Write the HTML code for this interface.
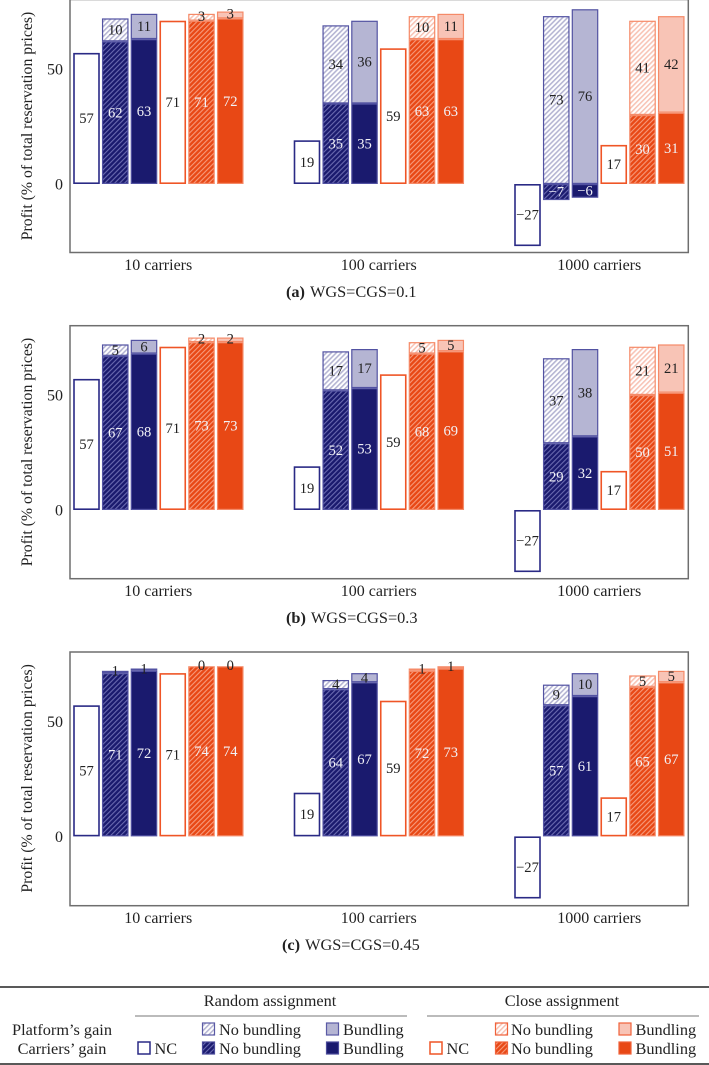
<!DOCTYPE html>
<html lang="en">
<head>
<meta charset="utf-8">
<title>Profit by assignment and bundling</title>
<style>
html,body{margin:0;padding:0;background:#fff;width:709px;height:1065px;overflow:hidden}
svg{display:block}
text{font-family:"Liberation Serif","DejaVu Serif",serif;fill:#222}
</style>
</head>
<body>
<svg id="chart" xmlns="http://www.w3.org/2000/svg" width="709" height="1065" viewBox="0 0 709 1065">
<defs>
<pattern id="hatch-navy-dark" width="3.5" height="3.5" patternUnits="userSpaceOnUse" patternTransform="rotate(45)"><rect width="3.5" height="3.5" fill="#1a1a6e"/><rect width="1.1" height="3.5" fill="#6a6ab0"/></pattern>
<pattern id="hatch-navy-light" width="3.5" height="3.5" patternUnits="userSpaceOnUse" patternTransform="rotate(45)"><rect width="3.5" height="3.5" fill="#fff"/><rect width="1.6" height="3.5" fill="#b5b5d3"/></pattern>
<pattern id="hatch-orange-dark" width="3.5" height="3.5" patternUnits="userSpaceOnUse" patternTransform="rotate(45)"><rect width="3.5" height="3.5" fill="#e84815"/><rect width="1.1" height="3.5" fill="#f79a7c"/></pattern>
<pattern id="hatch-orange-light" width="3.5" height="3.5" patternUnits="userSpaceOnUse" patternTransform="rotate(45)"><rect width="3.5" height="3.5" fill="#fff"/><rect width="1.6" height="3.5" fill="#f8c4b6"/></pattern>
</defs>
<g id="panels"></g>

<g>
<line x1="0" x2="709" y1="987" y2="987" stroke="#222" stroke-width="1.6"/>
<line x1="0" x2="709" y1="1064" y2="1064" stroke="#222" stroke-width="1.6"/>
<line x1="135" x2="407" y1="1016" y2="1016" stroke="#777" stroke-width="1"/>
<line x1="427" x2="699" y1="1016" y2="1016" stroke="#777" stroke-width="1"/>
<text x="270" y="1006" font-size="16.3" text-anchor="middle">Random assignment</text>
<text x="562" y="1006" font-size="16.3" text-anchor="middle">Close assignment</text>
<text x="62" y="1035" font-size="16.3" text-anchor="middle">Platform’s gain</text>
<text x="62" y="1054" font-size="16.3" text-anchor="middle">Carriers’ gain</text>

<rect x="138" y="1042" width="12" height="12" fill="#fff" stroke="#2a2a85" stroke-width="1.5"/>
<text x="154.5" y="1054" font-size="16.3">NC</text>
<rect x="202.5" y="1023" width="12" height="12" fill="url(#hatch-navy-light)" stroke="#5a5aa5" stroke-width="1.2"/>
<text x="219" y="1035" font-size="16.3">No bundling</text>
<rect x="202.5" y="1042" width="12" height="12" fill="url(#hatch-navy-dark)" stroke="#4a4a9a" stroke-width="1.2"/>
<text x="219" y="1054" font-size="16.3">No bundling</text>
<rect x="326.5" y="1023" width="12" height="12" fill="#b5b5d3" stroke="#5a5aa5" stroke-width="1.2"/>
<text x="343" y="1035" font-size="16.3">Bundling</text>
<rect x="326.5" y="1042" width="12" height="12" fill="#1a1a6e" stroke="#4a4a9a" stroke-width="1.2"/>
<text x="343" y="1054" font-size="16.3">Bundling</text>

<rect x="430" y="1042" width="12" height="12" fill="#fff" stroke="#ef5526" stroke-width="1.5"/>
<text x="446.5" y="1054" font-size="16.3">NC</text>
<rect x="495.5" y="1023" width="12" height="12" fill="url(#hatch-orange-light)" stroke="#f0623a" stroke-width="1.2"/>
<text x="511" y="1035" font-size="16.3">No bundling</text>
<rect x="495.5" y="1042" width="12" height="12" fill="url(#hatch-orange-dark)" stroke="#f0623a" stroke-width="1.2"/>
<text x="511" y="1054" font-size="16.3">No bundling</text>
<rect x="619" y="1023" width="12" height="12" fill="#f8c4b6" stroke="#f0623a" stroke-width="1.2"/>
<text x="635.5" y="1035" font-size="16.3">Bundling</text>
<rect x="619" y="1042" width="12" height="12" fill="#e84815" stroke="#f0623a" stroke-width="1.2"/>
<text x="635.5" y="1054" font-size="16.3">Bundling</text>
</g>
</svg>

<script>
const categories = ['10 carriers', '100 carriers', '1000 carriers'];
const tickLabels = [0, 50];

const ncRandom = [57, 19, -27];
const ncClose = [71, 59, 17];

const carriersRandomNoBundlingA = [62, 35, -7];
const platformRandomNoBundlingA = [10, 34, 73];
const carriersRandomBundlingA = [63, 35, -6];
const platformRandomBundlingA = [11, 36, 76];
const carriersCloseNoBundlingA = [71, 63, 30];
const platformCloseNoBundlingA = [3, 10, 41];
const carriersCloseBundlingA = [72, 63, 31];
const platformCloseBundlingA = [3, 11, 42];

const carriersRandomNoBundlingB = [67, 52, 29];
const platformRandomNoBundlingB = [5, 17, 37];
const carriersRandomBundlingB = [68, 53, 32];
const platformRandomBundlingB = [6, 17, 38];
const carriersCloseNoBundlingB = [73, 68, 50];
const platformCloseNoBundlingB = [2, 5, 21];
const carriersCloseBundlingB = [73, 69, 51];
const platformCloseBundlingB = [2, 5, 21];

const carriersRandomNoBundlingC = [71, 64, 57];
const platformRandomNoBundlingC = [1, 4, 9];
const carriersRandomBundlingC = [72, 67, 61];
const platformRandomBundlingC = [1, 4, 10];
const carriersCloseNoBundlingC = [74, 72, 65];
const platformCloseNoBundlingC = [0, 1, 5];
const carriersCloseBundlingC = [74, 73, 67];
const platformCloseBundlingC = [0, 1, 5];

const SVG_NS = 'http://www.w3.org/2000/svg';
const PX_PER_UNIT = 2.3;
const BAR_WIDTH = 26.6;

function xBar(group, slot) {
  return 73.2 + group * 220.5 + slot * 28.75;
}
function yValue(zeroY, value) {
  return zeroY - value * PX_PER_UNIT;
}
function shape(parent, tag, attrs) {
  const el = document.createElementNS(SVG_NS, tag);
  for (const key in attrs) el.setAttribute(key, attrs[key]);
  parent.appendChild(el);
  return el;
}
function formatValue(v) {
  return v < 0 ? '\u2212' + Math.abs(v) : String(v);
}

function drawSegment(parent, x, zeroY, from, to, fill, stroke, strokeWidth, labelValue, labelColor, name) {
  const yA = yValue(zeroY, Math.max(from, to));
  const yB = yValue(zeroY, Math.min(from, to));
  const seg = shape(parent, 'rect', {
    x: x + strokeWidth / 2,
    y: yA + strokeWidth / 2,
    width: BAR_WIDTH - strokeWidth,
    height: Math.max(0, yB - yA - strokeWidth),
    fill: fill,
    stroke: stroke,
    'stroke-width': strokeWidth
  });
  
  
  const nudge = Math.abs(labelValue) <= 3 ? -1 : 0;
  const label = shape(parent, 'text', {
    x: x + BAR_WIDTH / 2,
    y: (yA + yB) / 2 + 4.6 + nudge,
    'font-size': 14.6,
    'text-anchor': 'middle'
  });
  label.style.fill = labelColor;
  label.textContent = formatValue(labelValue);
  
  
}

function drawStack(parent, group, slot, zeroY, carriers, platform, style, name) {
  const x = xBar(group, slot);
  const base = Math.max(carriers, 0);
  drawSegment(parent, x, zeroY, 0, carriers, style.carriersFill, style.stroke, 1.2, carriers, '#f2f2f7', name + '-carriers');
  drawSegment(parent, x, zeroY, base, base + platform, style.platformFill, style.stroke, 1.2, platform, '#222', name + '-platform');
}

const navyHatch = { platformFill: 'url(#hatch-navy-light)', carriersFill: 'url(#hatch-navy-dark)', stroke: '#5252a2' };
const navySolid = { platformFill: '#b5b5d3', carriersFill: '#1a1a6e', stroke: '#5252a2' };
const orangeHatch = { platformFill: 'url(#hatch-orange-light)', carriersFill: 'url(#hatch-orange-dark)', stroke: '#f58a68' };
const orangeSolid = { platformFill: '#f8c4b6', carriersFill: '#e84815', stroke: '#f58a68' };

function drawPanel(parent, key, frameTop, frameBottom, zeroY, captionBold, captionRest, captionX, captionY, s) {
  const g = shape(parent, 'g', {});
  
  

  const frame = shape(g, 'rect', { x: 70, y: frameTop, width: 618.3, height: frameBottom - frameTop, fill: '#fff', stroke: '#6e6e6e', 'stroke-width': 1.5 });
  
  

  tickLabels.forEach(function (t) {
    const tick = shape(g, 'text', { x: 63, y: yValue(zeroY, t) + 5.5, 'font-size': 16, 'text-anchor': 'end' });
    tick.textContent = String(t);
    
    
  });

  const midY = zeroY - 58;
  const title = shape(g, 'text', { x: 32, y: midY, 'font-size': 15.8, 'text-anchor': 'middle', transform: 'rotate(-90 32 ' + midY + ')' });
  title.textContent = 'Profit (% of total reservation prices)';
  
  

  categories.forEach(function (cat, i) {
    const catLabel = shape(g, 'text', { x: xBar(i, 3) - 1.2, y: frameBottom + 17.5, 'font-size': 16, 'text-anchor': 'middle' });
    catLabel.textContent = cat;
    
    

    drawSegment(g, xBar(i, 0), zeroY, 0, ncRandom[i], '#fff', '#2a2a85', 1.6, ncRandom[i], '#222', 'bar-random-nc');
    drawStack(g, i, 1, zeroY, s.crn[i], s.prn[i], navyHatch, 'bar-random-no-bundling');
    drawStack(g, i, 2, zeroY, s.crb[i], s.prb[i], navySolid, 'bar-random-bundling');
    drawSegment(g, xBar(i, 3), zeroY, 0, ncClose[i], '#fff', '#ef5526', 1.6, ncClose[i], '#222', 'bar-close-nc');
    drawStack(g, i, 4, zeroY, s.ccn[i], s.pcn[i], orangeHatch, 'bar-close-no-bundling');
    drawStack(g, i, 5, zeroY, s.ccb[i], s.pcb[i], orangeSolid, 'bar-close-bundling');
  });

  const cap = shape(g, 'text', { x: captionX, y: captionY, 'font-size': 16.3 });
  
  
  const bold = shape(cap, 'tspan', { 'font-weight': 'bold' });
  bold.textContent = captionBold;
  const rest = shape(cap, 'tspan', { dx: 5 });
  rest.textContent = captionRest;
}

const root = document.getElementById('panels');
drawPanel(root, 'a', -0.5, 252.5, 184, '(a)', 'WGS=CGS=0.1', 286, 297, {
  crn: carriersRandomNoBundlingA, prn: platformRandomNoBundlingA,
  crb: carriersRandomBundlingA, prb: platformRandomBundlingA,
  ccn: carriersCloseNoBundlingA, pcn: platformCloseNoBundlingA,
  ccb: carriersCloseBundlingA, pcb: platformCloseBundlingA
});
drawPanel(root, 'b', 325.7, 578.7, 510, '(b)', 'WGS=CGS=0.3', 286, 623, {
  crn: carriersRandomNoBundlingB, prn: platformRandomNoBundlingB,
  crb: carriersRandomBundlingB, prb: platformRandomBundlingB,
  ccn: carriersCloseNoBundlingB, pcn: platformCloseNoBundlingB,
  ccb: carriersCloseBundlingB, pcb: platformCloseBundlingB
});
drawPanel(root, 'c', 652, 905.7, 836.4, '(c)', 'WGS=CGS=0.45', 282, 950, {
  crn: carriersRandomNoBundlingC, prn: platformRandomNoBundlingC,
  crb: carriersRandomBundlingC, prb: platformRandomBundlingC,
  ccn: carriersCloseNoBundlingC, pcn: platformCloseNoBundlingC,
  ccb: carriersCloseBundlingC, pcb: platformCloseBundlingC
});
</script>
</body>
</html>
